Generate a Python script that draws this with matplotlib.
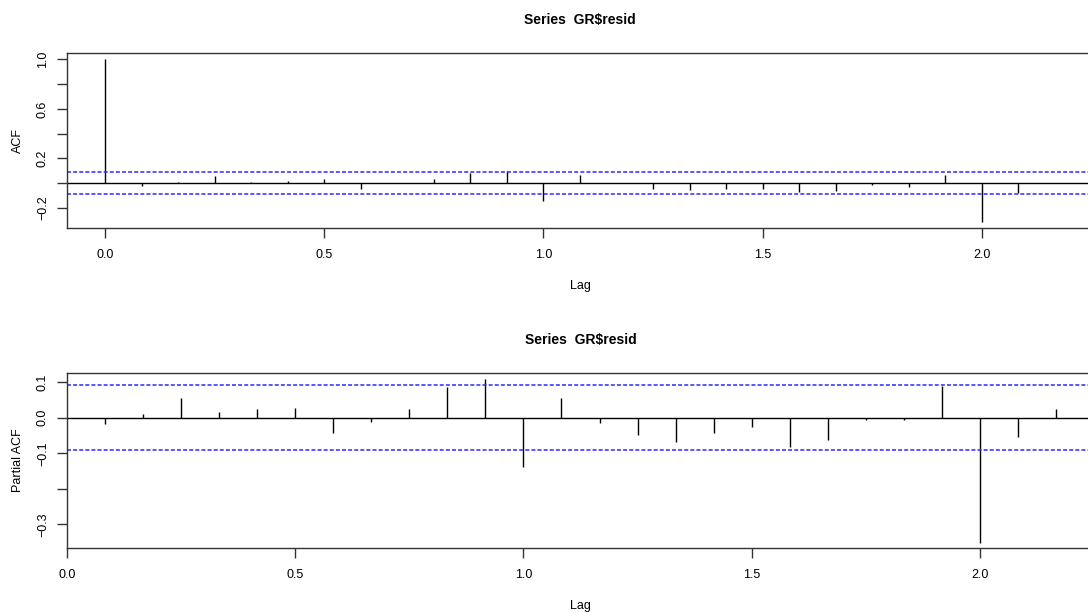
"""Redraw R-style ACF / PACF plots of the GR$resid series."""

import matplotlib
matplotlib.use("Agg")
import matplotlib.pyplot as plt
import numpy as np

# monthly lags (in years)
acf_lags = np.arange(0, 27) / 12.0
acf_vals = [
    1.000, -0.021, 0.011, 0.056, 0.008, 0.019, 0.029, -0.048, 0.002,
    0.032, 0.083, 0.101, -0.144, 0.064, 0.002, -0.048, -0.059, -0.048,
    -0.048, -0.075, -0.067, -0.016, -0.032, 0.064, -0.312, -0.083, -0.004,
]

pacf_lags = np.arange(1, 27) / 12.0
pacf_vals = [
    -0.017, 0.009, 0.056, 0.016, 0.025, 0.028, -0.042, -0.012, 0.025,
    0.086, 0.107, -0.140, 0.056, -0.015, -0.048, -0.069, -0.042, -0.026,
    -0.082, -0.063, -0.008, -0.006, 0.089, -0.351, -0.054, 0.025,
]

ci = 0.0914
title = "Series  GR\\$resid"

acf_yticks = [-0.2, 0.0, 0.2, 0.4, 0.6, 0.8, 1.0]
acf_yticklabels = ["\u22120.2", "", "0.2", "", "0.6", "", "1.0"]
pacf_yticks = [-0.3, -0.2, -0.1, 0.0, 0.1]
pacf_yticklabels = ["\u22120.3", "", "\u22120.1", "0.0", "0.1"]
xticks = [0.0, 0.5, 1.0, 1.5, 2.0]
xticklabels = ["0.0", "0.5", "1.0", "1.5", "2.0"]

plt.rcParams.update({
    "font.family": ["Liberation Sans", "DejaVu Sans"],
    "font.size": 9,
    "axes.linewidth": 1.0,
    "axes.edgecolor": "#333333",
})

W, H = 1088, 613
fig = plt.figure(figsize=(W / 100, H / 100), dpi=100)


def px_axes(left, top, right, bottom):
    return fig.add_axes([left / W, 1 - bottom / H, (right - left) / W, (bottom - top) / H])


def r_style(ax, ylim, xlim, yticks, yticklabels, ylabel):
    ax.set_xlim(*xlim)
    ax.set_ylim(*ylim)
    ax.set_xticks(xticks)
    ax.set_xticklabels(xticklabels)
    ax.set_yticks(yticks)
    ax.set_yticklabels(yticklabels, rotation=90, va="center")
    ax.tick_params(direction="out", length=7, width=1.0, color="#333333", pad=8)
    ax.tick_params(axis="y", pad=6)
    ax.axhline(0.0, color="black", linewidth=1.0)
    for y in (ci, -ci):
        ax.axhline(y, color="#2a2aff", linewidth=1.1, linestyle=(0, (2.6, 1.4)))
    ax.set_xlabel("Lag", labelpad=14)
    ax.set_ylabel(ylabel, labelpad=9)


ax1 = px_axes(67, 53, 1093, 228)
ax1.vlines(acf_lags, 0, acf_vals, color="black", linewidth=1.0)
r_style(ax1, (-0.3645, 1.0525), (-0.0867, 2.2533), acf_yticks, acf_yticklabels, "ACF")
ax1.set_title(title, fontweight="bold", fontsize=10, pad=21)

ax2 = px_axes(67, 373, 1094, 548)
ax2.vlines(pacf_lags, 0, pacf_vals, color="black", linewidth=1.0)
r_style(ax2, (-0.366, 0.125), (0.0, 2.25), pacf_yticks, pacf_yticklabels, "Partial ACF")
ax2.set_title(title, fontweight="bold", fontsize=10, pad=21)

fig.savefig("out.png", dpi=100)
